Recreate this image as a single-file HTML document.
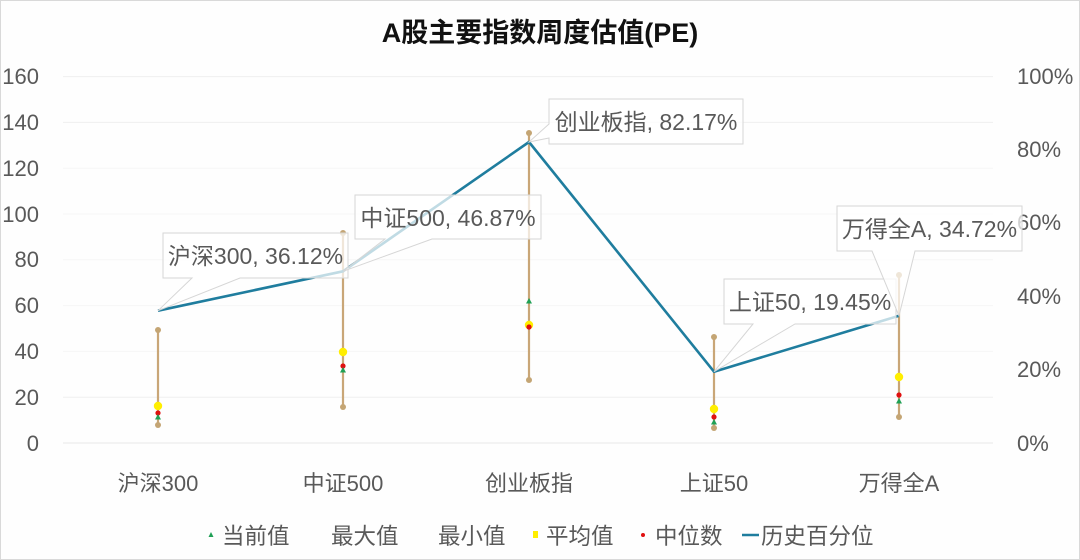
<!DOCTYPE html>
<html>
<head>
<meta charset="utf-8">
<style>
  html,body{margin:0;padding:0;background:#fff;}
  svg{display:block;}
  text{font-family:"Liberation Sans","Noto Sans CJK SC",sans-serif;}
</style>
</head>
<body>
<svg width="1080" height="560" viewBox="0 0 1080 560" xmlns="http://www.w3.org/2000/svg">
  <rect x="0.5" y="0.5" width="1079" height="559" fill="#fefefe" stroke="#d9d9d9" stroke-width="1"/>

  <!-- title -->
  <text x="540" y="42" text-anchor="middle" font-size="27" font-weight="bold" fill="#111">A股主要指数周度估值(PE)</text>

  <!-- gridlines -->
  <g stroke="#efefef" stroke-width="1">
    <line x1="63" y1="76.6" x2="993" y2="76.6"/>
    <line x1="63" y1="122.4" x2="993" y2="122.4"/>
    <line x1="63" y1="168.2" x2="993" y2="168.2" stroke="#f6f6f6"/>
    <line x1="63" y1="214" x2="993" y2="214" stroke="#f6f6f6"/>
    <line x1="63" y1="259.8" x2="993" y2="259.8" stroke="#f6f6f6"/>
    <line x1="63" y1="305.6" x2="993" y2="305.6" stroke="#f6f6f6"/>
    <line x1="63" y1="351.4" x2="993" y2="351.4" stroke="#f6f6f6"/>
    <line x1="63" y1="397.2" x2="993" y2="397.2"/>
    <line x1="63" y1="443" x2="993" y2="443" stroke="#e8e8e8"/>
  </g>

  <!-- left axis labels -->
  <g font-size="22" fill="#595959" text-anchor="end">
    <text x="39" y="84">160</text>
    <text x="39" y="130">140</text>
    <text x="39" y="176">120</text>
    <text x="39" y="222">100</text>
    <text x="39" y="267">80</text>
    <text x="39" y="313">60</text>
    <text x="39" y="359">40</text>
    <text x="39" y="405">20</text>
    <text x="39" y="451">0</text>
  </g>
  <!-- right axis labels -->
  <g font-size="22" fill="#595959">
    <text x="1017" y="84">100%</text>
    <text x="1017" y="157">80%</text>
    <text x="1017" y="230">60%</text>
    <text x="1017" y="304">40%</text>
    <text x="1017" y="377">20%</text>
    <text x="1017" y="451">0%</text>
  </g>

  <!-- category labels -->
  <g font-size="22" fill="#595959" text-anchor="middle">
    <text x="158" y="491">沪深300</text>
    <text x="343" y="491">中证500</text>
    <text x="529" y="491">创业板指</text>
    <text x="714" y="491">上证50</text>
    <text x="899" y="491">万得全A</text>
  </g>

  <!-- range bars -->
  <g stroke="#c9a677" stroke-width="2.2">
    <line x1="158" y1="330" x2="158" y2="425"/>
    <line x1="343" y1="233" x2="343" y2="407"/>
    <line x1="529" y1="133" x2="529" y2="380"/>
    <line x1="714" y1="337" x2="714" y2="428"/>
    <line x1="899" y1="275" x2="899" y2="417"/>
  </g>
  <g fill="#c4a574">
    <circle cx="158" cy="330" r="3"/><circle cx="158" cy="425" r="3"/>
    <circle cx="343" cy="233" r="3"/><circle cx="343" cy="407" r="3"/>
    <circle cx="529" cy="133" r="3"/><circle cx="529" cy="380" r="3"/>
    <circle cx="714" cy="337" r="3"/><circle cx="714" cy="428" r="3"/>
    <circle cx="899" cy="275" r="3"/><circle cx="899" cy="417" r="3"/>
  </g>
  <!-- mean (yellow) -->
  <g fill="#ffee00">
    <circle cx="158" cy="406" r="4.2"/>
    <circle cx="343" cy="352" r="4.2"/>
    <circle cx="529" cy="325" r="4.2"/>
    <circle cx="714" cy="409" r="4.2"/>
    <circle cx="899" cy="377" r="4.2"/>
  </g>
  <!-- median (red) -->
  <g fill="#e01010">
    <circle cx="158" cy="413" r="2.6"/>
    <circle cx="343" cy="366" r="2.6"/>
    <circle cx="529" cy="327" r="2.6"/>
    <circle cx="714" cy="417" r="2.6"/>
    <circle cx="899" cy="395" r="2.6"/>
  </g>
  <!-- current (green triangles) -->
  <g fill="#1fa055">
    <polygon points="158,414 161,419.5 155,419.5"/>
    <polygon points="343,367 346,372.5 340,372.5"/>
    <polygon points="529,298 532,303.5 526,303.5"/>
    <polygon points="714,419 717,424.5 711,424.5"/>
    <polygon points="899,398 902,403.5 896,403.5"/>
  </g>

  <!-- percentile line -->
  <polyline points="158,310.7 343,271.3 529,142 714,371.7 899,315.8" fill="none" stroke="#1f7d9e" stroke-width="2.6" stroke-linejoin="round"/>

  <!-- callout labels -->
  <g fill="#ffffff" fill-opacity="0.72" stroke="#d6d6d6" stroke-width="1">
    <path d="M163,233 H348 V278 H240 L158,310.7 L192,278 H163 Z"/>
    <path d="M355,195 H541 V239 H432 L343,271.3 L385,239 H355 Z"/>
    <path d="M549,99 H743 V144 H549 V138 L529,142 L549,124 Z"/>
    <path d="M724,279 H896 V324 H795 L714,371.7 L753,324 H724 Z"/>
    <path d="M837,206 H1022 V251 H915 L899,315.8 L872,251 H837 Z"/>
  </g>
  <g font-size="23" fill="#595959" text-anchor="middle">
    <text x="255.5" y="264">沪深300, 36.12%</text>
    <text x="448" y="226">中证500, 46.87%</text>
    <text x="646" y="130">创业板指, 82.17%</text>
    <text x="810" y="310">上证50, 19.45%</text>
    <text x="929.5" y="237">万得全A, 34.72%</text>
  </g>

  <!-- legend -->
  <g font-size="22.5" fill="#595959">
    <polygon points="211,532 213.5,537 208.5,537" fill="#1fa055"/>
    <text x="222" y="544">当前值</text>
    <text x="331" y="544">最大值</text>
    <text x="438" y="544">最小值</text>
    <rect x="533" y="531" width="5" height="7" fill="#ffee00"/>
    <text x="546" y="544">平均值</text>
    <circle cx="643" cy="535" r="2" fill="#e01010"/>
    <text x="655" y="544">中位数</text>
    <line x1="742" y1="535" x2="759" y2="535" stroke="#1f7d9e" stroke-width="2.6"/>
    <text x="761" y="544">历史百分位</text>
  </g>
</svg>
</body>
</html>
